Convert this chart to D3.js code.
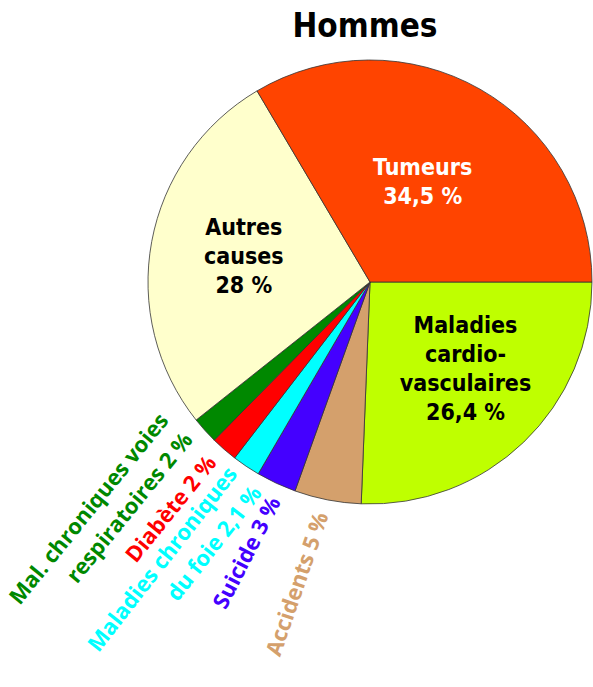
<!DOCTYPE html>
<html>
<head>
<meta charset="utf-8">
<script src="https://cdn.jsdelivr.net/npm/d3@7"></script>
<style>
  body { margin: 0; background: #fff; }
</style>
</head>
<body>
<div id="chart"></div>
<script>
// Global Variables

//Width and height
var w = 593;
var h = 687;

// Data: causes of death, men (percent)
var categories = ["Maladies cardio-vasculaires", "Accidents", "Suicide",
	"Maladies chroniques du foie", "Diabète", "Mal. chroniques voies respiratoires",
	"Autres causes", "Tumeurs"];
var values = [26.4, 5, 3, 2.1, 2, 2, 28, 34.5];
var valueLabels = ["26,4 %", "5 %", "3 %", "2,1 %", "2 %", "2 %", "28 %", "34,5 %"];

// Label lines (the value goes on its own line inside, appended outside)
var labelLines = [
	["Maladies", "cardio-", "vasculaires"],
	["Accidents"],
	["Suicide"],
	["Maladies chroniques", "du foie"],
	["Diabète"],
	["Mal. chroniques voies", "respiratoires"],
	["Autres", "causes"],
	["Tumeurs"]
];
// which slices get their label inside the pie
var inside = [true, false, false, false, false, false, true, true];

var colorList = ["#bfff00", "#d4a06c", "#4400ff", "#00ffff", "#ff0000", "#008800", "#ffffcc", "#ff4400"];
var labelColorList = ["#000", "#d4a06c", "#4400ff", "#00ffff", "#ff0000", "#008800", "#000", "#fff"];

// layout tweaks for the labels
var insideRadius = [0.58, 0, 0, 0, 0, 0, 0.58, 0.51];
var insideNudge = [-4, 0, 0, 0, 0, 0, 1, -2];      // degrees
var outsideRotation = [0, -71, -63, -52, -51, -51, 0, 0];
var outsideNudge = [0, -1, -3, -7, -1, 0, 0, 0];   // degrees

var cx = 370, cy = 282, r = 222;

var svg = d3.select("#chart")
	.append("svg")
	.attr("width", w)
	.attr("height", h);

svg.append("text")
	.attr("x", 365)
	.attr("y", 37)
	.attr("text-anchor", "middle")
	.style("font-family", "'DejaVu Sans Condensed', 'DejaVu Sans', sans-serif")
	.style("font-weight", "bold")
	.style("font-size", "33px")
	.text("Hommes");

var pie = d3.pie()
	.sort(null)
	.startAngle(Math.PI / 2)
	.endAngle(Math.PI / 2 + 2 * Math.PI)
	.value(function(d) { return d; });

var arcs = pie(values);

var arc = d3.arc().innerRadius(0).outerRadius(r);

var g = svg.append("g")
	.attr("transform", "translate(" + cx + "," + cy + ")");

g.selectAll("path")
	.data(arcs)
	.enter()
	.append("path")
	.attr("d", arc)
	.style("fill", function(d, i) { return colorList[i]; })
	.style("stroke", "#333")
	.style("stroke-width", 0.8);

function midAngle(d, nudge) {
	return (d.startAngle + d.endAngle) / 2 + nudge * Math.PI / 180;
}

//Inside labels
var lineH = 29;
arcs.forEach(function(d, i) {
	if (!inside[i]) return;
	var a = midAngle(d, insideNudge[i]);
	var rr = r * insideRadius[i];
	var x = rr * Math.sin(a), y = -rr * Math.cos(a);
	var lines = labelLines[i].concat([valueLabels[i]]);
	var t = g.append("text")
		.attr("text-anchor", "middle")
		.style("font-family", "'DejaVu Sans Condensed', 'DejaVu Sans', sans-serif")
		.style("font-weight", "bold")
		.style("font-size", "23px")
		.style("fill", labelColorList[i]);
	lines.forEach(function(l, j) {
		t.append("tspan")
			.attr("x", x)
			.attr("y", y + (j - (lines.length - 1) / 2) * lineH)
			.attr("dy", "0.35em")
			.text(l);
	});
});

//Outside labels, rotated; last line ends next to the slice
var outLineH = 31;
arcs.forEach(function(d, i) {
	if (inside[i]) return;
	var a = midAngle(d, outsideNudge[i]);
	var rr = r + 15;
	var x = rr * Math.sin(a), y = -rr * Math.cos(a);
	var lines = labelLines[i].slice();
	lines[lines.length - 1] = lines[lines.length - 1] + " " + valueLabels[i];
	var t = g.append("text")
		.attr("transform", "translate(" + x + "," + y + ") rotate(" + outsideRotation[i] + ")")
		.attr("text-anchor", "end")
		.style("font-family", "'Open Sans', sans-serif")
		.style("font-weight", "bold")
		.style("font-size", "22px")
		.style("fill", labelColorList[i]);
	lines.forEach(function(l, j) {
		t.append("tspan")
			.attr("x", 0)
			.attr("y", (j - (lines.length - 1)) * outLineH)
			.text(l);
	});
});
</script>
</body>
</html>
